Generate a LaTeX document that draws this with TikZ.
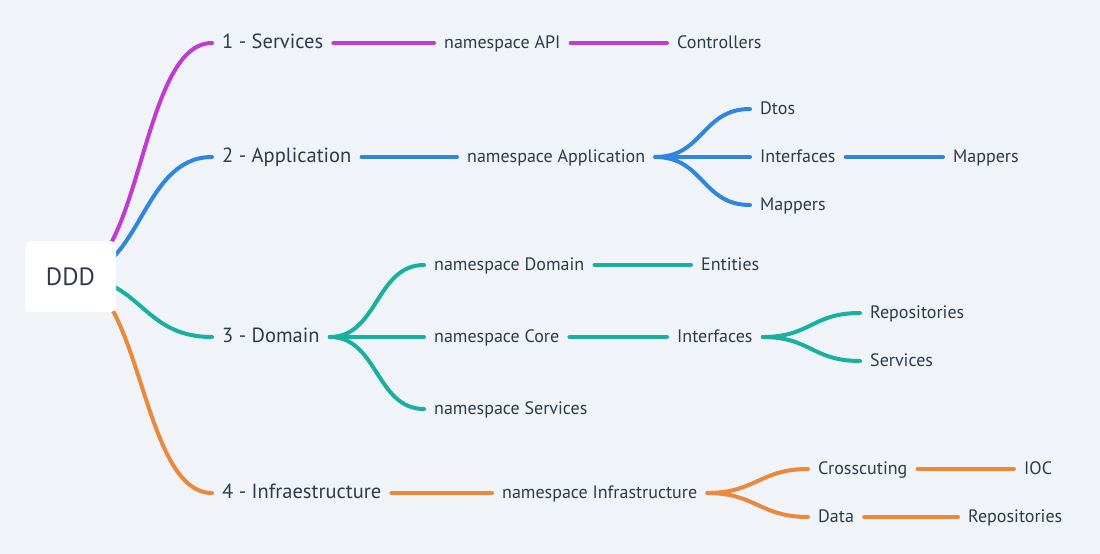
\documentclass[tikz,border=0pt]{standalone}
\usepackage{fontspec}
\setmainfont{PT Sans}
\usetikzlibrary{positioning, calc, backgrounds}

\definecolor{bgcol}{HTML}{F0F4F8}
\definecolor{ink}{HTML}{2D3B4B}
\definecolor{cpurple}{HTML}{C03AD4}
\definecolor{cblue}{HTML}{2E86DE}
\definecolor{cteal}{HTML}{1AB0A0}
\definecolor{corange}{HTML}{EB883C}

\begin{document}
\begin{tikzpicture}[x=1pt, y=-1pt,
    topic/.style={anchor=west, inner xsep=10pt, inner ysep=0pt, text=ink,
        text height=1em, text depth=0pt, font=\fontsize{20.5}{20.5}\selectfont},
    leaf/.style={topic, font=\fontsize{18}{18}\selectfont},
    link/.style={line width=4pt, line cap=round}]

    % root
    \node[rectangle, fill=white, rounded corners=5pt, minimum width=91pt,
        minimum height=71pt, text=ink, font=\fontsize{25}{25}\selectfont] (root) at (70.5,276.5) {DDD};

    % first level
    \node[topic] (services) at (212,43) {1 - Services};
    \node[topic] (application) at (212,157) {2 - Application};
    \node[topic] (domain) at (212,337) {3 - Domain};
    \node[topic] (infra) at (212,493) {4 - Infraestructure};

    % services
    \node[leaf] (nsapi) at (434,43) {namespace API};
    \node[leaf] (controllers) at (667,43) {Controllers};

    % application
    \node[leaf] (nsapp) at (457,157) {namespace Application};
    \node[leaf] (dtos) at (750,109) {Dtos};
    \node[leaf] (appint) at (750,157) {Interfaces};
    \node[leaf] (appmapb) at (943,157) {Mappers};
    \node[leaf] (appmap) at (750,205) {Mappers};

    % domain
    \node[leaf] (nsdom) at (424,265) {namespace Domain};
    \node[leaf] (entities) at (691,265) {Entities};
    \node[leaf] (nscore) at (424,337) {namespace Core};
    \node[leaf] (coreint) at (667,337) {Interfaces};
    \node[leaf] (corerepo) at (860,313) {Repositories};
    \node[leaf] (coreserv) at (860,361) {Services};
    \node[leaf] (nsserv) at (424,409) {namespace Services};

    % infrastructure
    \node[leaf] (nsinf) at (492,493) {namespace Infrastructure};
    \node[leaf] (cross) at (808,469) {Crosscuting};
    \node[leaf] (ioc) at (1014,469) {IOC};
    \node[leaf] (data) at (808,517) {Data};
    \node[leaf] (datarepo) at (958,517) {Repositories};

    \begin{scope}[on background layer]
        \fill[bgcol] (0,0) rectangle (1100,554);
        \draw[link, cpurple] (root.center) .. controls +(71.5,0) and +(-71.5,0) .. (services.west);
        \draw[link, cblue] (root.center) .. controls +(71.5,0) and +(-71.5,0) .. (application.west);
        \draw[link, cteal] (root.center) .. controls +(71.5,0) and +(-71.5,0) .. (domain.west);
        \draw[link, corange] (root.center) .. controls +(71.5,0) and +(-71.5,0) .. (infra.west);
    \end{scope}

    \draw[link, cpurple] (services.east) -- (nsapi.west);
    \draw[link, cpurple] (nsapi.east) -- (controllers.west);

    \draw[link, cblue] (application.east) -- (nsapp.west);
    \draw[link, cblue] (nsapp.east) .. controls +(48,0) and +(-48,0) .. (dtos.west);
    \draw[link, cblue] (nsapp.east) -- (appint.west);
    \draw[link, cblue] (nsapp.east) .. controls +(48,0) and +(-48,0) .. (appmap.west);
    \draw[link, cblue] (appint.east) -- (appmapb.west);

    \draw[link, cteal] (domain.east) .. controls +(48,0) and +(-48,0) .. (nsdom.west);
    \draw[link, cteal] (domain.east) -- (nscore.west);
    \draw[link, cteal] (domain.east) .. controls +(48,0) and +(-48,0) .. (nsserv.west);
    \draw[link, cteal] (nsdom.east) -- (entities.west);
    \draw[link, cteal] (nscore.east) -- (coreint.west);
    \draw[link, cteal] (coreint.east) .. controls +(48,0) and +(-48,0) .. (corerepo.west);
    \draw[link, cteal] (coreint.east) .. controls +(48,0) and +(-48,0) .. (coreserv.west);

    \draw[link, corange] (infra.east) -- (nsinf.west);
    \draw[link, corange] (nsinf.east) .. controls +(48,0) and +(-48,0) .. (cross.west);
    \draw[link, corange] (nsinf.east) .. controls +(48,0) and +(-48,0) .. (data.west);
    \draw[link, corange] (cross.east) -- (ioc.west);
    \draw[link, corange] (data.east) -- (datarepo.west);
\end{tikzpicture}
\end{document}
